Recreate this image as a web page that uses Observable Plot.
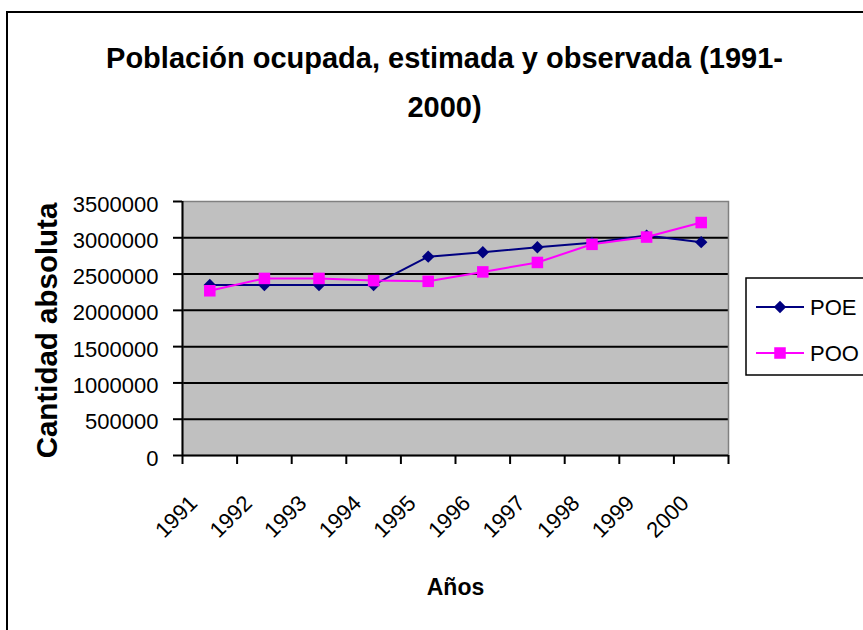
<!DOCTYPE html>
<html><head><meta charset="utf-8">
<script src="https://cdn.jsdelivr.net/npm/d3@7"></script>
<script src="https://cdn.jsdelivr.net/npm/@observablehq/plot@0.6"></script>
<style>
html,body{margin:0;padding:0;background:#fff;}
#wrap{position:relative;width:863px;height:630px;overflow:hidden;background:#fff;}
#border{position:absolute;left:6px;top:11px;width:900px;height:700px;border:2px solid #000;box-sizing:border-box;}
#chart{position:absolute;left:0;top:0;}
#legend{position:absolute;left:0;top:0;}
</style></head><body>
<div id="wrap"><div id="border"></div><div id="chart"></div><svg id="legend" width="863" height="630"></svg></div>
<script>
const years = ["1991","1992","1993","1994","1995","1996","1997","1998","1999","2000"];
const poe = [2350000, 2350000, 2350000, 2350000, 2740000, 2800000, 2870000, 2930000, 3030000, 2940000];
const poo = [2270000, 2440000, 2440000, 2410000, 2400000, 2530000, 2660000, 2910000, 3010000, 3210000];
const yTicks = [0, 500000, 1000000, 1500000, 2000000, 2500000, 3000000, 3500000];
const seriesNames = ["POE", "POO"];
const seriesColors = ["#000080", "#FF00FF"];
const titleLines = ["Población ocupada, estimada y observada (1991-", "2000)"];
const yLabel = "Cantidad absoluta";
const xLabel = "Años";

const FONT = "'Liberation Sans', Arial, sans-serif";
const center = (d, i) => i + 0.5;
const yMax = yTicks[yTicks.length - 1];

const chart = Plot.plot({
  width: 863, height: 630,
  marginLeft: 182, marginRight: 135, marginTop: 201, marginBottom: 175,
  style: {fontFamily: FONT, fontSize: "22px", background: "transparent", color: "#000"},
  x: {type: "linear", domain: [0, years.length], axis: null},
  y: {domain: [0, yMax], axis: null},
  marks: [
    Plot.frame({fill: "#c0c0c0"}),
    Plot.ruleY(yTicks.filter(v => v > 0 && v < yMax), {stroke: "#000", strokeWidth: 2}),
    Plot.frame({stroke: "#808080", strokeWidth: 1.5}),
    Plot.ruleX([0], {stroke: "#000", strokeWidth: 2}),
    Plot.ruleY([0], {stroke: "#000", strokeWidth: 2}),
    Plot.axisY({ticks: yTicks, tickSize: 9, tickFormat: () => "", strokeWidth: 2, label: null}),
    Plot.axisX({ticks: d3.range(0, years.length + 1), tickSize: 9, tickFormat: () => "", strokeWidth: 2, label: null}),
    Plot.text(yTicks, {y: d => d, text: d => String(d), frameAnchor: "left", textAnchor: "end", dx: -24, dy: 3, fontSize: 22}),
    Plot.text(years, {x: center, text: d => d, frameAnchor: "bottom", rotate: -45, textAnchor: "end", lineAnchor: "middle", dx: -16, dy: 44, fontSize: 22}),
    Plot.line(poe, {x: center, y: d => d, stroke: seriesColors[0], strokeWidth: 2}),
    Plot.dot(poe, {x: center, y: d => d, symbol: "diamond2", r: 5.6, fill: seriesColors[0], stroke: "none"}),
    Plot.line(poo, {x: center, y: d => d, stroke: seriesColors[1], strokeWidth: 2}),
    Plot.dot(poo, {x: center, y: d => d, symbol: "square", r: 6.5, fill: seriesColors[1], stroke: "none"}),
    Plot.text([titleLines[0]], {text: d => d, frameAnchor: "top", textAnchor: "middle", lineAnchor: "bottom", dx: -11, dy: -134, fontSize: 29, fontWeight: "bold"}),
    Plot.text([titleLines[1]], {text: d => d, frameAnchor: "top", textAnchor: "middle", lineAnchor: "bottom", dx: -11, dy: -85, fontSize: 29, fontWeight: "bold"}),
    Plot.text([yLabel], {text: d => d, frameAnchor: "left", rotate: -90, textAnchor: "middle", lineAnchor: "middle", dx: -135, dy: 2, fontSize: 29.5, fontWeight: "bold"}),
    Plot.text([xLabel], {text: d => d, frameAnchor: "bottom", textAnchor: "middle", lineAnchor: "bottom", dy: 139, fontSize: 23, fontWeight: "bold"})
  ]
});
document.getElementById("chart").appendChild(chart);

// legend
const lg = d3.select("#legend");
lg.append("rect").attr("x", 746).attr("y", 278).attr("width", 200).attr("height", 97)
  .attr("fill", "#fff").attr("stroke", "#000").attr("stroke-width", 1.5);
const rowsY = [307, 353];
const symbols = [d3.symbolDiamond2, d3.symbolSquare];
const sizes = [Math.PI * 5.6 * 5.6, Math.PI * 6.5 * 6.5];
seriesNames.forEach((name, i) => {
  const g = lg.append("g").attr("transform", `translate(0,${rowsY[i]})`);
  g.append("line").attr("x1", 756).attr("x2", 804).attr("y1", 0).attr("y2", 0)
    .attr("stroke", seriesColors[i]).attr("stroke-width", 2);
  g.append("path").attr("transform", "translate(780,0)").attr("d", d3.symbol(symbols[i], sizes[i])())
    .attr("fill", seriesColors[i]);
  g.append("text").attr("x", 810).attr("y", 0).attr("dy", "0.35em")
    .attr("font-family", FONT).attr("font-size", 22).text(name);
});
</script>
</body></html>
